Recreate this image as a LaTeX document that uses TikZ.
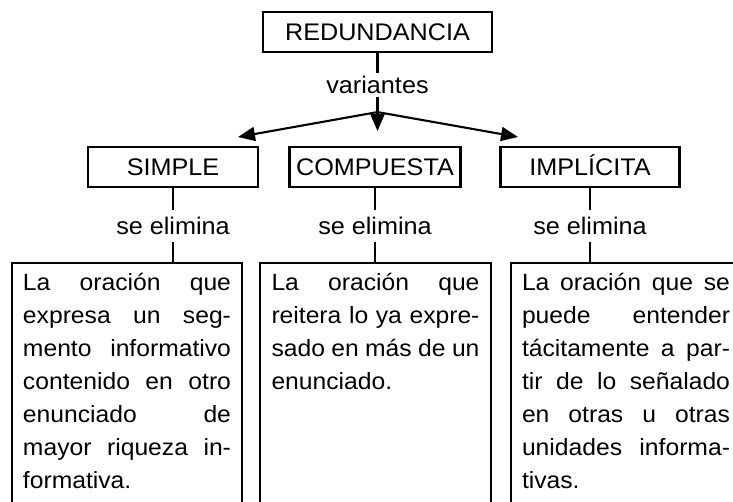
\documentclass[tikz,border=0pt]{standalone}
\usepackage{fontspec}
\setmainfont{Liberation Sans}[FakeStretch=1.05]
\usetikzlibrary{arrows.meta,positioning}

\newcommand{\jl}[1]{\makebox[208pt][s]{\spaceskip=0pt\xspaceskip=0pt #1}}

\begin{document}
\begin{tikzpicture}[
    x=1pt, y=1pt,
    font=\fontsize{23.5}{33}\selectfont,
    big/.style={font=\fontsize{24}{30}\selectfont},
    box/.style={big, draw, line width=2.1pt, minimum height=40pt, inner xsep=6pt, text height=17.5pt, text depth=0pt},
    lbl/.style={big, inner xsep=2pt, inner ysep=3pt},
    elim/.style={big, inner xsep=2pt, inner ysep=7pt},
    desc/.style={anchor=north, text width=208pt, inner xsep=11pt, inner ysep=10pt, align=left},
    frame/.style={line width=2.1pt},
    link/.style={line width=2.1pt},
    arr/.style={-{Triangle[length=17pt,width=14pt]}, line width=2.1pt}
  ]
    \useasboundingbox (0,0) rectangle (733,-501);
    \clip (0,0) rectangle (733,-501);

    % top
    \node[box, minimum width=229pt] (Red) at (377.5,-32) {REDUNDANCIA};
    \node[lbl, below=20pt of Red] (Var) {variantes};
    \coordinate[below=15pt of Var] (Top);
    \coordinate (TL) at (238,-137);
    \coordinate (TM) at (377.5,-131);
    \coordinate (TR) at (518,-137);

    % variants
    \node[box, minimum width=170pt] (S) at (173,-167) {SIMPLE};
    \node[box, minimum width=171pt] (C) at (375,-167) {COMPUESTA};
    \node[box, minimum width=179pt] (I) at (590,-167) {IMPLÍCITA};
    \node[elim, below=22pt of S] (E1) {se elimina};
    \node[elim, below=22pt of C] (E2) {se elimina};
    \node[elim, below=22pt of I] (E3) {se elimina};

    % definitions
    \node[desc] (D1) at (127,-263) {\jl{La oración que}\\ \jl{expresa un seg-}\\ \jl{mento informativo}\\ \jl{contenido en otro}\\ \jl{enunciado de}\\ \jl{mayor riqueza in-}\\ formativa.};
    \node[desc] (D2) at (375.5,-263) {\jl{La oración que}\\ \jl{reitera lo ya expre-}\\ \jl{sado en más de un}\\ enunciado.};
    \node[desc] (D3) at (626,-263) {\jl{La oración que se}\\ \jl{puede entender}\\ \jl{tácitamente a par-}\\ \jl{tir de lo señalado}\\ \jl{en otras u otras}\\ \jl{unidades informa-}\\ tivas.};
    \coordinate (Bot) at (0,-540);
    \draw[frame] (D1.north west) rectangle (D1.north east |- Bot);
    \draw[frame] (D2.north west) rectangle (D2.north east |- Bot);
    \draw[frame] (D3.north west) rectangle (D3.north east |- Bot);

    \draw[link] (Red) -- (Var);
    \draw[link] (Var) -- (Top);
    \draw[arr] (Top) -- (TL);
    \draw[arr] (Top) -- (TM);
    \draw[arr] (Top) -- (TR);
    \draw[link] (S) -- (E1);
    \draw[link] (C) -- (E2);
    \draw[link] (I) -- (E3);
    \draw[link] (E1) -- (E1 |- D1.north);
    \draw[link] (E2) -- (E2 |- D2.north);
    \draw[link] (E3) -- (E3 |- D3.north);
  \end{tikzpicture}
\end{document}
